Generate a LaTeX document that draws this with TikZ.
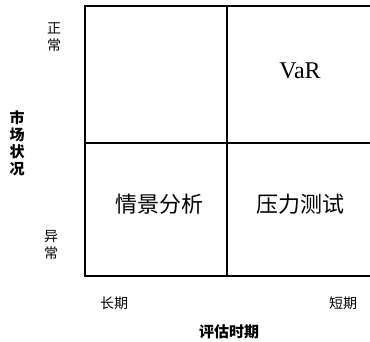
\documentclass[tikz,border=0pt]{standalone}
\usepackage{fontspec}
\setmainfont{Liberation Serif}
\newfontfamily\cjk{Noto Sans CJK SC}
\begin{document}
\begin{tikzpicture}[x=1pt,y=-1pt,
  grid/.style={line width=1.2pt,black},
  cell/.style={font=\cjk\fontsize{22}{22}\selectfont},
  axis/.style={font=\cjk\fontsize{14}{14}\selectfont},
  axisb/.style={font=\cjk\bfseries\fontsize{15}{15}\selectfont},
  vert/.style={align=center,inner sep=0pt}]
\useasboundingbox (0,0) rectangle (370,342);
% grid
\coordinate (tl) at (85,6);
\coordinate (tr) at (370,6);
\coordinate (bl) at (85,276);
\coordinate (br) at (370,276);
\coordinate (tm) at (227,6);
\coordinate (bm) at (227,276);
\coordinate (ml) at (85,143);
\coordinate (mr) at (370,143);
\draw[grid] (tr) -- (tl) -- (bl) -- (br);
\draw[grid] (tm) -- (bm);
\draw[grid] (ml) -- (mr);
% cells
\node (var) at (300,71) {\fontsize{24}{24}\selectfont VaR};
\node[cell] (scen) at (159,204) {情景分析};
\node[cell] (stress) at (300,204) {压力测试};
% y axis
\node[axis,vert] (normal) at (54,37) {正\\[3pt]常};
\node[axis,vert] (abnormal) at (51,245) {异\\[3pt]常};
\node[axisb,vert] (market) at (17,143) {市\\[2pt]场\\[2pt]状\\[2pt]况};
% x axis
\node[axis] (long) at (114,303) {长期};
\node[axis] (short) at (343,303) {短期};
\node[axisb] (period) at (229,332) {评估时期};
\end{tikzpicture}
\end{document}
